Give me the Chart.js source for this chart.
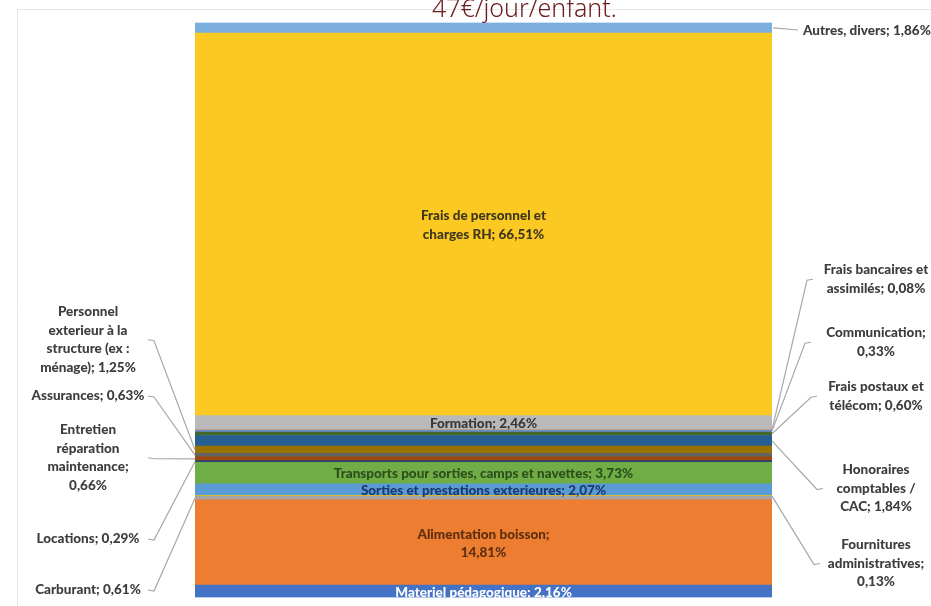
<!DOCTYPE html>
<html>
<head>
<meta charset="utf-8">
<script src="https://cdn.jsdelivr.net/npm/chart.js@4.4.1/dist/chart.umd.min.js"></script>
<style>
  html, body { margin: 0; padding: 0; background: #fff; }
  #wrap { width: 931px; height: 606px; position: relative; }
</style>
</head>
<body>
<div id="wrap"><canvas id="chart"></canvas></div>
<script>
// data, bottom of the bar first
const barCategory = ["Charges"];
const categories = [
  "Materiel pédagogique",
  "Alimentation boisson",
  "Carburant",
  "Fournitures administratives",
  "Sorties et prestations exterieures",
  "Transports pour sorties, camps et navettes",
  "Locations",
  "Entretien réparation maintenance",
  "Assurances",
  "Personnel exterieur à la structure (ex : ménage)",
  "Honoraires comptables / CAC",
  "Frais postaux et télécom",
  "Communication",
  "Frais bancaires et assimilés",
  "Formation",
  "Frais de personnel et charges RH",
  "Autres, divers"
];
const shares = [2.16, 14.81, 0.61, 0.13, 2.07, 3.73, 0.29, 0.66, 0.63, 1.25, 1.84, 0.60, 0.33, 0.08, 2.46, 66.51, 1.86];
const headline = "47€/jour/enfant.";

const colors = [
  "#4472C4", "#ED7D31", "#A5A5A5", "#FFC000", "#5B9BD5", "#70AD47",
  "#264478", "#9E480E", "#636363", "#997300", "#255E91", "#43682B",
  "#698ED0", "#F1975A", "#B9B9B9", "#FCC923", "#7CAFDD"
];

// label placement: words per line, where the text sits, leader hook
const LH = 18.5;
const labelLayout = {
  0:  { side: "in", words: [4], color: "#ffffff" },
  1:  { side: "in", words: [2, 1], color: "#5e2e0e" },
  2:  { side: "left", words: [3], y: 590 },
  3:  { side: "right", words: [1, 1, 1], y: 545, hook: 820 },
  4:  { side: "in", words: [6], color: "#1c3870" },
  5:  { side: "in", words: [8], color: "#2c4f1b" },
  6:  { side: "left", words: [2], y: 539 },
  7:  { side: "left", words: [1, 1, 1, 1], y: 430 },
  8:  { side: "left", words: [2], y: 396 },
  9:  { side: "left", words: [1, 3, 3, 2], y: 312 },
  10: { side: "right", words: [1, 2, 2], y: 470, hook: 823 },
  11: { side: "right", words: [3, 2], y: 387, hook: 817 },
  12: { side: "right", words: [1, 1], y: 333, hook: 811 },
  13: { side: "right", words: [3, 2], y: 270, hook: 813 },
  14: { side: "in", words: [2], color: "#383838" },
  15: { side: "in", words: [4, 3], color: "#3d361c" },
  16: { side: "end", words: [3], y: 31 }
};

const fmt = v => v.toFixed(2).replace(".", ",") + "%";
const FONT = "900 13.5px Lato, 'Open Sans', sans-serif";

function splitLines(text, counts) {
  const w = text.split(" ");
  const out = [];
  let i = 0;
  counts.forEach(n => { out.push(w.slice(i, i + n).join(" ")); i += n; });
  if (i < w.length) out[out.length - 1] += " " + w.slice(i).join(" ");
  return out;
}

const labelPlugin = {
  id: "labels",
  afterDatasetsDraw(chart) {
    const ctx = chart.ctx;
    const area = chart.chartArea;
    ctx.save();

    // faint chart frame
    ctx.strokeStyle = "#e6e6e6";
    ctx.lineWidth = 1;
    ctx.beginPath();
    ctx.moveTo(931, 9.5); ctx.lineTo(17.5, 9.5); ctx.lineTo(17.5, 606);
    ctx.stroke();

    ctx.font = FONT;
    ctx.textBaseline = "middle";
    shares.forEach((v, i) => {
      const el = chart.getDatasetMeta(i).data[0];
      const top = Math.min(el.y, el.base), bot = Math.max(el.y, el.base);
      const mid = (top + bot) / 2;
      const L = labelLayout[i];
      const lines = splitLines(categories[i] + "; " + fmt(v), L.words);

      if (L.side === "in") {
        ctx.fillStyle = L.color;
        ctx.textAlign = "center";
        const y0 = mid - (lines.length - 1) * LH / 2 + 1;
        lines.forEach((t, k) => ctx.fillText(t, (area.left + area.right) / 2, y0 + k * LH));
        return;
      }

      ctx.strokeStyle = "#a8a8a8";
      ctx.lineWidth = 1.2;
      ctx.fillStyle = "#3d3d3d";
      const cy = L.y + (lines.length - 1) * LH / 2;
      ctx.beginPath();
      if (L.side === "left") {
        ctx.moveTo(148, cy);
        ctx.lineTo(154, cy + 1);
        ctx.lineTo(area.left, mid);
        ctx.textAlign = "center";
        lines.forEach((t, k) => ctx.fillText(t, 88, L.y + k * LH));
      } else if (L.side === "right") {
        ctx.moveTo(L.hook, cy);
        ctx.lineTo(L.hook - 6, cy + 1);
        ctx.lineTo(area.right, mid);
        ctx.textAlign = "center";
        lines.forEach((t, k) => ctx.fillText(t, 876, L.y + k * LH));
      } else {
        ctx.moveTo(area.right + 1, mid);
        ctx.lineTo(798, L.y - 1);
        ctx.textAlign = "left";
        ctx.fillText(lines[0], 803, L.y);
      }
      ctx.stroke();
    });

    // headline cut at the top of the picture
    ctx.font = "300 25px 'Noto Sans', sans-serif";
    ctx.fillStyle = "#6b1c1c";
    ctx.textAlign = "left";
    ctx.textBaseline = "alphabetic";
    ctx.fillText(headline, 432, 17);
    ctx.restore();
  }
};

const total = shares.reduce((a, b) => a + b, 0);

new Chart(document.getElementById("chart"), {
  type: "bar",
  data: {
    labels: barCategory,
    datasets: categories.map((c, i) => ({
      label: c,
      data: [shares[i]],
      backgroundColor: colors[i],
      borderWidth: 0,
      categoryPercentage: 1,
      barPercentage: 1
    }))
  },
  options: {
    responsive: true,
    maintainAspectRatio: false,
    animation: false,
    layout: { padding: { left: 195, right: 159, top: 22.5, bottom: 8.5 } },
    plugins: { legend: { display: false }, tooltip: { enabled: false } },
    scales: {
      x: { stacked: true, display: false },
      y: { stacked: true, display: false, min: 0, max: total }
    }
  },
  plugins: [labelPlugin]
});
</script>
</body>
</html>
